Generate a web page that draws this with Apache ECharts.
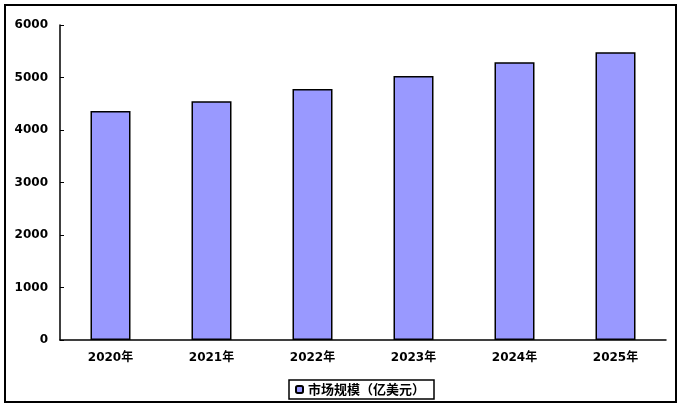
<!DOCTYPE html>
<html><head><meta charset="utf-8">
<script src="https://cdn.jsdelivr.net/npm/echarts@6/dist/echarts.min.js"></script>
<style>html,body{margin:0;padding:0;background:#fff}#c{width:683px;height:409px}</style>
</head><body><div id="c"></div>
<script>
const categories = ['2020年','2021年','2022年','2023年','2024年','2025年'];
const marketSize = [4360, 4550, 4780, 5030, 5290, 5480];
const seriesName = '市场规模（亿美元）';
const yMin = 0, yMax = 6000, yStep = 1000;

const chart = echarts.init(document.getElementById('c'), null, {renderer:'canvas'});
const font = '"DejaVu Sans", "Noto Sans CJK SC", sans-serif';
chart.setOption({
  animation: false,
  backgroundColor: '#fff',
  grid: {left: 60, right: 17, top: 25, bottom: 69, containLabel: false},
  graphic: [{type:'rect', shape:{x:5, y:5, width:671, height:397}, style:{fill:'none', stroke:'#000', lineWidth:2}, z: 100}],
  legend: {
    data: [seriesName], left: 289, top: 380, itemWidth: 7, itemHeight: 7, itemGap: 4,
    borderColor: '#000', borderWidth: 1.5, padding: [3, 9, 3, 6],
    textStyle: {fontFamily: '"Noto Sans CJK SC", sans-serif', fontWeight: 'bold', fontSize: 13, color: '#000'}
  },
  xAxis: {
    type: 'category', data: categories, boundaryGap: true,
    axisLine: {lineStyle: {color: '#000', width: 1.5}},
    axisTick: {inside: true, length: 4, interval: 0, lineStyle:{color:'#000'}},
    axisLabel: {margin: 12, fontFamily: font, fontWeight: 'bold', fontSize: 12, color: '#000', interval: 0}
  },
  yAxis: {
    type: 'value', min: yMin, max: yMax, interval: yStep,
    axisLine: {show: true, lineStyle: {color: '#000', width: 1.5}},
    axisTick: {show: true, inside: true, length: 4, lineStyle:{color:'#000'}},
    splitLine: {show: false},
    axisLabel: {margin: 12, fontFamily: font, fontWeight: 'bold', fontSize: 12, color: '#000', formatter: v => String(v)}
  },
  series: [{
    name: seriesName, type: 'bar', data: marketSize, barWidth: 40,
    itemStyle: {color: '#9999FF', borderColor: '#000', borderWidth: 1.5}
  }]
});
</script></body></html>
